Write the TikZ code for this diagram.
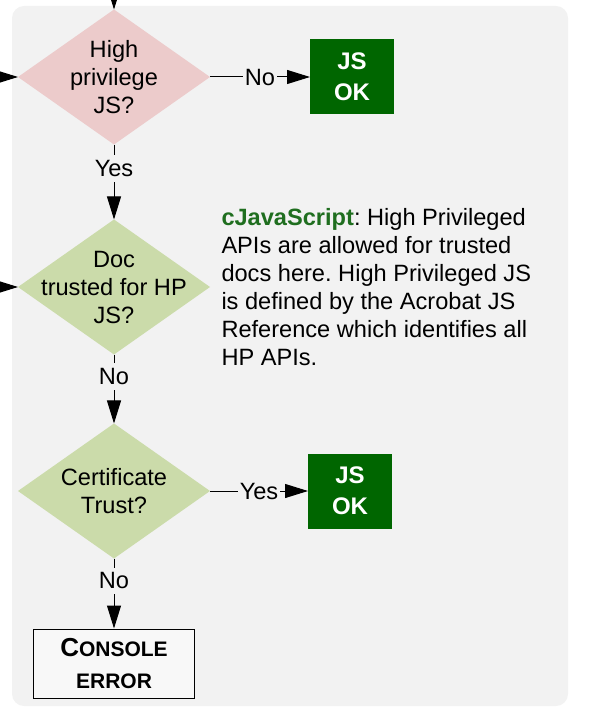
\documentclass[tikz,border=0pt]{standalone}
\usepackage{fontspec}
\setmainfont{Liberation Sans}
\usepackage{tikz}
\usetikzlibrary{arrows.meta}
\usetikzlibrary{shapes.geometric}
\usetikzlibrary{positioning}
\frenchspacing

\definecolor{panelgray}{HTML}{F2F2F2}
\definecolor{pinkfill}{HTML}{ECCBCB}
\definecolor{sagefill}{HTML}{CBDBAA}
\definecolor{okgreen}{HTML}{006600}
\definecolor{notegreen}{HTML}{1F6E1F}
\definecolor{errfill}{HTML}{F8F8F8}

\begin{document}
\begin{tikzpicture}[x=1pt, y=-1pt, ->, >={Triangle[length=23pt,width=14pt]}, line width=1pt, font=\fontsize{23.6}{28}\selectfont]
            \tikzstyle{decision}=[diamond, draw=none, minimum width=192pt, minimum height=135pt, inner sep=0pt, outer sep=0pt]
            \tikzstyle{dtext}=[align=center, inner sep=0pt]
            \tikzstyle{okbox}=[rectangle, fill=okgreen, text=white, align=center, minimum width=84pt, minimum height=75pt, inner sep=0pt, outer sep=0pt, font=\fontsize{24}{31}\selectfont\bfseries]
            \tikzstyle{errbox}=[rectangle, draw=black, line width=1.5pt, fill=errfill, align=center, minimum width=161pt, minimum height=69pt, inner sep=0pt, font=\fontsize{21}{32}\selectfont\bfseries]
            \tikzstyle{answer}=[fill=panelgray, inner xsep=2pt, inner ysep=5pt]

            \useasboundingbox (0,0) rectangle (594,708);
            \fill[-, panelgray, rounded corners=12pt] (12,6) rectangle (568,706);

            \node[decision, fill=pinkfill] (hp) at (114,77) {};
            \node[decision, fill=sagefill] (trusted) [below=75pt of hp] {};
            \node[decision, fill=sagefill] (cert) [below=69pt of trusted] {};
            \node[dtext] (hptext) at (hp) {High\\privilege\\JS?};
            \node[dtext] (trustedtext) at (trusted) {Doc\\trusted for HP\\JS?};
            \node[dtext] (certtext) at (cert) {Certificate\\Trust?};

            \node[okbox] (ok1) [right=100pt of hp] {JS\\OK};
            \node[okbox] (ok2) [right=98pt of cert] {JS\\OK};
            \node[errbox] (err) [below=70pt of cert] {{\fontsize{26}{32}\selectfont C}ONSOLE\\ERROR};

            \node[align=left, inner sep=0pt] (note) [right=11pt of trusted] {\textcolor{notegreen}{\textbf{cJavaScript}}: High Privileged\\APIs are allowed for trusted\\docs here. High Privileged JS\\is defined by the Acrobat JS\\Reference which identifies all\\HP APIs.};

            \coordinate (fromtop) at (114,-30);
            \coordinate (fromlefta) at (-30,77);
            \coordinate (fromleftb) at (-30,287);

            \path (fromtop) edge (hp)
                (fromlefta) edge (hp)
                (fromleftb) edge (trusted)
                (hp) edge node[answer] (hpno) {No} (ok1)
                (hp) edge node[answer, pos=0.32] (hpyes) {Yes} (trusted)
                (trusted) edge node[answer, pos=0.32] (trustedno) {No} (cert)
                (cert) edge node[answer] (certyes) {Yes} (ok2)
                (cert) edge node[answer, pos=0.32] (certno) {No} (err)
            ;
        \end{tikzpicture}
\end{document}
